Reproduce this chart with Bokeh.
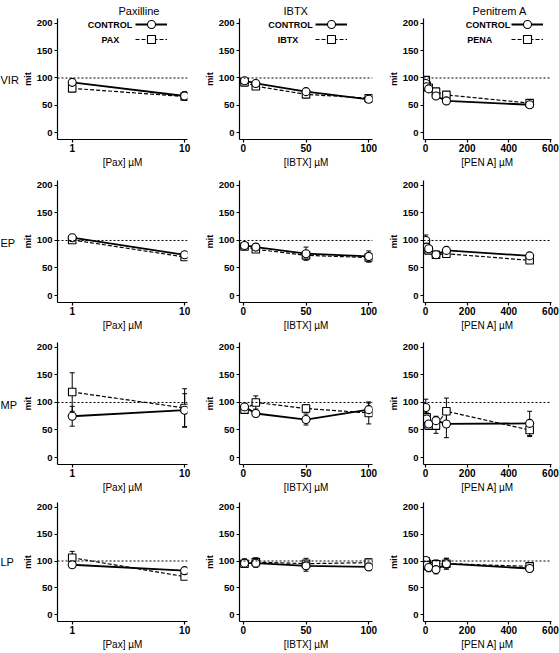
from bokeh.plotting import figure
from bokeh.layouts import gridplot
from bokeh.models import (ColumnDataSource, Whisker, TeeHead, Span, Legend, LegendItem,
                          Label, FixedTicker, Range1d)
from bokeh.embed import file_html
from bokeh.resources import INLINE

FONT = "Liberation Sans"

# ---------------- data ----------------
drug_titles = ["Paxilline", "IBTX", "Penitrem A"]
drug_names = ["PAX", "IBTX", "PENA"]
x_titles = ["[Pax] µM", "[IBTX] µM", "[PEN A] µM"]
row_names = ["VIR", "EP", "MP", "LP"]
y_ticks = [0, 50, 100, 150, 200]
x_ticks = [[1, 10], [0, 50, 100], [0, 200, 400, 600]]

pax_dose = [1, 10]
ibtx_dose = [1, 10, 50, 100]
pena_dose = [1, 5, 15, 50, 100, 500]

# VIR
vir_pax_ctrl = [92, 67]
vir_pax_ctrl_err = [4, 8]
vir_pax_drug = [81, 66]
vir_pax_drug_err = [3, 6]
vir_ibtx_ctrl = [95, 90, 75, 61]
vir_ibtx_ctrl_err = [3, 4, 4, 3]
vir_ibtx_drug = [92, 85, 70, 63]
vir_ibtx_drug_err = [3, 3, 4, 4]
vir_pena_ctrl = [90, 84, 80, 67, 58, 51]
vir_pena_ctrl_err = [4, 3, 3, 3, 4, 3]
vir_pena_drug = [96, 86, 82, 75, 69, 54]
vir_pena_drug_err = [4, 3, 3, 4, 3, 4]

# EP
ep_pax_ctrl = [105, 74]
ep_pax_ctrl_err = [6, 6]
ep_pax_drug = [101, 70]
ep_pax_drug_err = [4, 5]
ep_ibtx_ctrl = [91, 88, 76, 71]
ep_ibtx_ctrl_err = [4, 3, 12, 10]
ep_ibtx_drug = [89, 84, 73, 69]
ep_ibtx_drug_err = [4, 4, 6, 8]
ep_pena_ctrl = [100, 88, 85, 74, 82, 72]
ep_pena_ctrl_err = [10, 5, 4, 4, 6, 5]
ep_pena_drug = [91, 84, 82, 74, 76, 64]
ep_pena_drug_err = [5, 4, 4, 4, 5, 4]

# MP
mp_pax_ctrl = [75, 86]
mp_pax_ctrl_err = [18, 30]
mp_pax_drug = [119, 90]
mp_pax_drug_err = [35, 35]
mp_ibtx_ctrl = [92, 80, 69, 87]
mp_ibtx_ctrl_err = [5, 6, 10, 12]
mp_ibtx_drug = [87, 100, 89, 81]
mp_ibtx_drug_err = [5, 12, 7, 20]
mp_pena_ctrl = [91, 70, 61, 67, 61, 62]
mp_pena_ctrl_err = [15, 8, 6, 8, 25, 22]
mp_pena_drug = [61, 73, 58, 58, 84, 50]
mp_pena_drug_err = [6, 8, 5, 14, 24, 12]

# LP
lp_pax_ctrl = [93, 82]
lp_pax_ctrl_err = [4, 3]
lp_pax_drug = [106, 71]
lp_pax_drug_err = [12, 4]
lp_ibtx_ctrl = [96, 96, 91, 89]
lp_ibtx_ctrl_err = [8, 8, 10, 6]
lp_ibtx_drug = [95, 98, 95, 97]
lp_ibtx_drug_err = [7, 8, 10, 7]
lp_pena_ctrl = [101, 92, 88, 84, 95, 86]
lp_pena_ctrl_err = [5, 8, 8, 8, 10, 6]
lp_pena_drug = [99, 95, 90, 94, 95, 90]
lp_pena_drug_err = [5, 8, 8, 8, 10, 6]

doses = [pax_dose, ibtx_dose, pena_dose]
table = [
    [(vir_pax_ctrl, vir_pax_ctrl_err, vir_pax_drug, vir_pax_drug_err),
     (vir_ibtx_ctrl, vir_ibtx_ctrl_err, vir_ibtx_drug, vir_ibtx_drug_err),
     (vir_pena_ctrl, vir_pena_ctrl_err, vir_pena_drug, vir_pena_drug_err)],
    [(ep_pax_ctrl, ep_pax_ctrl_err, ep_pax_drug, ep_pax_drug_err),
     (ep_ibtx_ctrl, ep_ibtx_ctrl_err, ep_ibtx_drug, ep_ibtx_drug_err),
     (ep_pena_ctrl, ep_pena_ctrl_err, ep_pena_drug, ep_pena_drug_err)],
    [(mp_pax_ctrl, mp_pax_ctrl_err, mp_pax_drug, mp_pax_drug_err),
     (mp_ibtx_ctrl, mp_ibtx_ctrl_err, mp_ibtx_drug, mp_ibtx_drug_err),
     (mp_pena_ctrl, mp_pena_ctrl_err, mp_pena_drug, mp_pena_drug_err)],
    [(lp_pax_ctrl, lp_pax_ctrl_err, lp_pax_drug, lp_pax_drug_err),
     (lp_ibtx_ctrl, lp_ibtx_ctrl_err, lp_ibtx_drug, lp_ibtx_drug_err),
     (lp_pena_ctrl, lp_pena_ctrl_err, lp_pena_drug, lp_pena_drug_err)],
]

# ---------------- layout ----------------
NAME_W = 19
COL_W = [180, 184, 176]
LEFT = [35, 40, 40]
RIGHT = [12, 11, 8]
ROW_H = [174, 162, 162, 154]
TOP = [17, 6, 6, 4]
BOTTOM = [35, 34, 34, 28]
X_RANGES = [(0.74, 10.6), (-3, 103), (-10, 605)]
Y_RANGE = (-12.7, 209)
TITLE_OFFSET = [61, 44, 49]
LEG_GLYPH_FRAC = [0.707, 0.69, 0.81]
LEG_CTRL_FRAC = [0.395, 0.383, 0.504]
LEG_DRUG_FRAC = [0.398, 0.365, 0.44]


def style_axis(ax, label, bold_label, tick_size):
    ax.axis_label = label
    ax.axis_line_color = "black"
    ax.axis_line_width = 1.2
    ax.major_tick_line_color = "black"
    ax.major_tick_line_width = 1.2
    ax.major_tick_out = 3
    ax.major_tick_in = 0
    ax.minor_tick_line_color = None
    ax.major_label_standoff = 1
    ax.axis_label_standoff = 2
    ax.major_label_text_font = FONT
    ax.major_label_text_font_size = tick_size
    ax.major_label_text_font_style = "bold"
    ax.major_label_text_color = "black"
    ax.axis_label_text_font = FONT
    ax.axis_label_text_font_size = "10px" if not bold_label else "9px"
    ax.axis_label_text_font_style = "bold" if bold_label else "normal"
    ax.axis_label_text_color = "black"


def make_name(r):
    p = figure(width=NAME_W, height=ROW_H[r], output_backend="svg", toolbar_location=None,
               min_border_left=0, min_border_right=0, min_border_top=TOP[r],
               min_border_bottom=BOTTOM[r],
               x_range=Range1d(0, 1), y_range=Range1d(0, 1))
    p.axis.visible = False
    p.xgrid.visible = False
    p.ygrid.visible = False
    p.outline_line_color = None
    fh = ROW_H[r] - TOP[r] - BOTTOM[r]
    # the grid aligns this frame with the row's panel frames
    p.add_layout(Label(x=0, y=fh / 2 - 1, x_units="screen", y_units="screen",
                       text=row_names[r], text_align="left", text_baseline="middle",
                       text_font=FONT, text_font_size="11px", text_color="black"))
    return p


def make_panel(r, c):
    fw = COL_W[c] - LEFT[c] - RIGHT[c]
    fh = ROW_H[r] - TOP[r] - BOTTOM[r]
    kw = dict(width=COL_W[c], height=ROW_H[r], output_backend="svg", toolbar_location=None,
              x_range=Range1d(*X_RANGES[c]), y_range=Range1d(*Y_RANGE),
              min_border_left=LEFT[c], min_border_right=RIGHT[c],
              min_border_top=TOP[r], min_border_bottom=BOTTOM[r],
              title=drug_titles[c] if r == 0 else None)
    if c == 0:
        kw["x_axis_type"] = "log"
    p = figure(**kw)
    p.outline_line_color = None
    p.xgrid.visible = False
    p.ygrid.visible = False
    p.background_fill_color = "white"
    p.border_fill_color = "white"
    if r == 0:
        p.title.text_font = FONT
        p.title.text_font_size = "11px"
        p.title.text_font_style = "normal"
        p.title.text_color = "black"
        p.title.align = "left"
        p.title.offset = TITLE_OFFSET[c]
        p.title.standoff = 4

    style_axis(p.xaxis[0], x_titles[c], False, "10px")
    style_axis(p.yaxis[0], "mit", True, "9.5px")
    p.yaxis[0].major_label_standoff = 2
    p.yaxis[0].axis_label_standoff = 1
    p.xaxis[0].ticker = FixedTicker(ticks=x_ticks[c])
    p.yaxis[0].ticker = FixedTicker(ticks=y_ticks)
    if c == 0:
        p.xaxis[0].major_label_overrides = {1: "1", 10: "10"}

    p.add_layout(Span(location=100, dimension="width", line_color="black",
                      line_dash="2 2", line_width=1))

    xs = doses[c]
    ctrl, ctrl_err, drug, drug_err = table[r][c]

    for vals, errs in ((ctrl, ctrl_err), (drug, drug_err)):
        src = ColumnDataSource(dict(x=xs, upper=[v + e for v, e in zip(vals, errs)],
                                    lower=[v - e for v, e in zip(vals, errs)]))
        p.add_layout(Whisker(base="x", upper="upper", lower="lower", source=src,
                             line_color="black", line_width=1,
                             upper_head=TeeHead(size=5, line_color="black", line_width=1),
                             lower_head=TeeHead(size=5, line_color="black", line_width=1)))

    src_c = ColumnDataSource(dict(x=xs, y=ctrl))
    src_d = ColumnDataSource(dict(x=xs, y=drug))
    ld = p.line("x", "y", source=src_d, line_color="black", line_width=1.2, line_dash="4 2")
    lc = p.line("x", "y", source=src_c, line_color="black", line_width=1.8)
    md = p.scatter("x", "y", source=src_d, marker="square", size=7.5, fill_color="white",
                   line_color="black", line_width=1.1)
    mc = p.scatter("x", "y", source=src_c, marker="circle", size=8, fill_color="white",
                   line_color="black", line_width=1.1)

    if r == 0:
        gx = LEG_GLYPH_FRAC[c] * fw - 16
        for rend, cy in (([lc, mc], 7), ([ld, md], 22)):
            leg = Legend(items=[LegendItem(label="", renderers=rend)],
                         location=(gx, fh - cy - 10), glyph_width=32, glyph_height=20,
                         padding=0, margin=0, spacing=0, label_width=0, label_standoff=0,
                         border_line_alpha=0, background_fill_alpha=0,
                         label_text_font_size="1px")
            p.add_layout(leg)
        p.add_layout(Label(x=LEG_CTRL_FRAC[c] * fw, y=fh - 7, x_units="screen", y_units="screen",
                           text="CONTROL", text_align="center", text_baseline="middle",
                           text_font=FONT, text_font_size="9px", text_font_style="bold",
                           text_color="black"))
        p.add_layout(Label(x=LEG_DRUG_FRAC[c] * fw, y=fh - 22, x_units="screen", y_units="screen",
                           text=drug_names[c], text_align="center", text_baseline="middle",
                           text_font=FONT, text_font_size="9px", text_font_style="bold",
                           text_color="black"))
    return p


rows = [[make_name(r)] + [make_panel(r, c) for c in range(3)] for r in range(4)]
grid = gridplot(rows, toolbar_location=None)

open("out.html", "w").write(file_html(grid, INLINE))
